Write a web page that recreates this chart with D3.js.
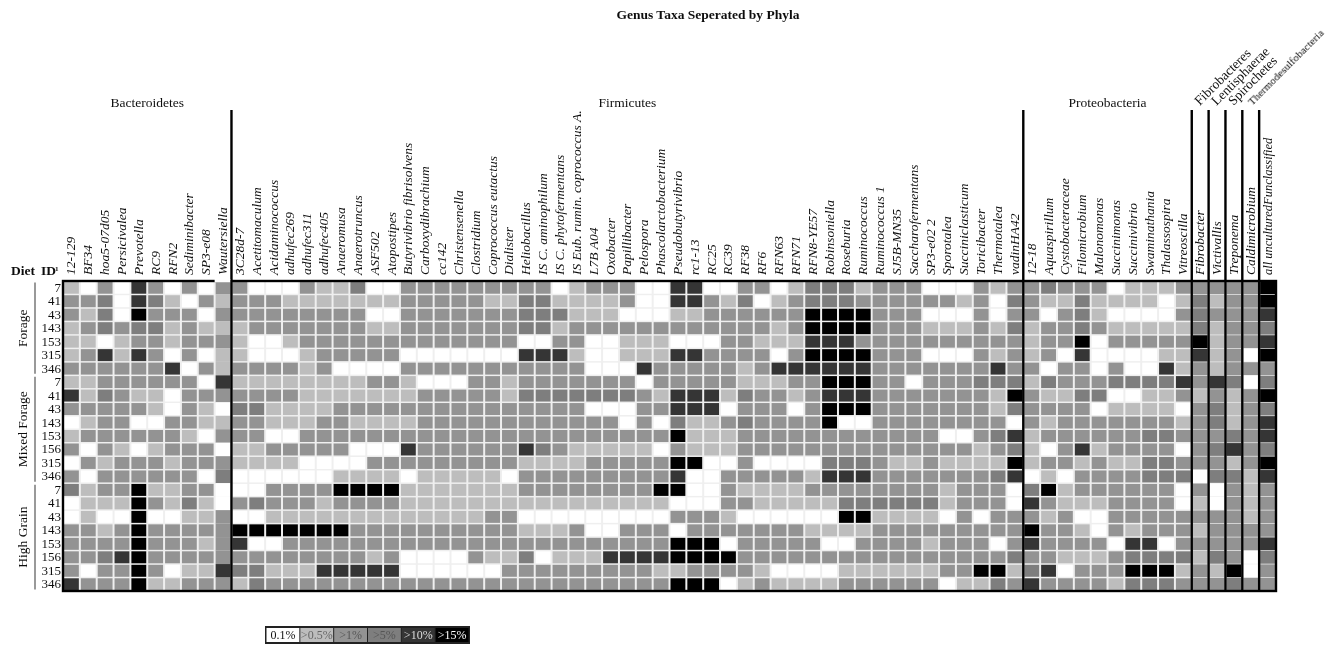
<!DOCTYPE html>
<meta charset="utf-8">

<style type="text/css">
body { margin: 0; background: #fff; }
text { font-family: "Liberation Serif", serif; fill: #111; }
.title { font-size: 13.5px; font-weight: bold; }
.phylum { font-size: 13.5px; }
.taxon { font-size: 13.5px; font-style: italic; }
.rowid { font-size: 13px; }
.diet { font-size: 13.5px; }
.head { font-size: 13.5px; font-weight: bold; }
.divider { stroke: #000; stroke-width: 2.4; }
.frame { fill: none; stroke: #000; stroke-width: 2.4; }
.bracket { stroke: #999; stroke-width: 2; }
.legend text { font-size: 12px; }
</style>
<body>
</body>

<script src="https://d3js.org/d3.v7.min.js"></script>
<script>

// taxa by phylum, left to right
var bacteroidetes = ["12-129", "BF34", "hoa5-07d05", "Persicivalea", "Prevotella", "RC9", "RFN2", "Sediminibacter", "SP3-e08", "Wautersiella"];
var firmicutes = ["3C28d-7", "Acetitomaculum", "Acidaminococcus", "adhufec269", "adhufec311", "adhufec405", "Anaeromusa", "Anaerotruncus", "ASF502", "Atopostipes", "Butyrivibrio fibrisolvens", "Carboxydibrachium", "cc142", "Christensenella", "Clostridium", "Coprococcus eutactus", "Dialister", "Heliobacillus", "IS C. aminophilum", "IS C. phytofermentans", "IS Eub. rumin. coprococcus A.", "L7B A04", "Oxobacter", "Papillibacter", "Pelospora", "Phascolarctobacterium", "Pseudobutyrivibrio", "rc1-13", "RC25", "RC39", "RF38", "RF6", "RFN63", "RFN71", "RFN8-YE57", "Robinsoniella", "Roseburia", "Ruminococcus", "Ruminococcus 1", "SJ5B-MN35", "Saccharofermentans", "SP3-e02 2", "Sporotalea", "Succiniclasticum", "Toricibacter", "Thermotalea", "vadinHA42"];
var proteobacteria = ["12-18", "Aquaspirillum", "Cystobacteraceae", "Filomicrobium", "Malonomonas", "Succinimonas", "Succinivibrio", "Swaminathania", "Thalassospira", "Vitreoscilla"];
var singles = ["Fibrobacter", "Victivallis", "Treponema", "Caldimicrobium", "all unculturedFunclassified"];
var singlePhyla = ["Fibrobacteres", "Lentisphaerae", "Spirochetes", "Thermodesulfobacteria"];

var dietNames = ["Forage", "Mixed Forage", "High Grain"];
var forageIds = [7, 41, 43, 143, 153, 315, 346];
var mixedIds = [7, 41, 43, 143, 153, 156, 315, 346];
var grainIds = [7, 41, 43, 143, 153, 156, 315, 346];

// abundance class of each taxon, one row per animal (index into abundanceLabels)
var abundanceLabels = ["0.1%", ">0.5%", ">1%", ">5%", ">10%", ">15%"];
var abundanceGreys = ["#ffffff", "#bdbdbd", "#939393", "#7e7e7e", "#353535", "#000000"];
var legendInk = ["#111", "#666", "#555", "#555", "#ddd", "#fff"];

var forageCells = [
  [1,0,2,0,4,2,0,2,0,2, 2,0,0,0,2,1, 1,3,0,0,2,2,2,2,2,2,2,2,2,0,1,2,2,2,0,0, 4,4,0,0,2,2,0,1,3,3,3,1,2,2,2,0,0,0,2,1, 2,2,3,2,2,2,0,1,1,1,2,2,2,2,2,5],
  [2,2,3,0,4,3,1,0,2,1, 2,2,2,1,1,1, 1,1,1,1,2,2,2,2,2,1,1,3,3,1,1,1,1,2,0,0, 4,4,2,1,3,0,1,2,3,3,3,2,2,2,2,2,2,1,2,0, 3,2,1,1,3,1,1,1,1,0,1,3,1,2,2,5],
  [2,1,3,0,5,2,2,2,0,2, 2,2,2,2,2,2, 2,2,0,0,2,2,2,2,2,2,2,3,3,3,1,1,1,0,0,0, 1,1,2,2,2,2,2,2,5,5,5,5,2,2,2,0,0,0,2,0, 2,2,0,2,3,1,0,0,0,0,2,3,2,2,2,4],
  [1,2,3,2,3,3,1,2,1,1, 1,2,2,2,2,2, 2,2,1,1,2,2,2,2,2,2,2,3,3,1,2,2,2,2,2,2, 2,2,2,2,2,2,1,2,5,5,5,5,2,2,2,1,1,1,2,1, 3,1,2,2,3,2,1,1,1,1,1,3,1,2,2,3],
  [1,1,0,1,2,2,1,2,2,2, 1,0,0,1,2,2, 2,2,2,2,2,2,2,2,2,2,2,0,0,2,2,0,0,1,1,1, 0,0,0,2,2,1,1,1,4,4,4,2,2,2,2,2,2,2,2,2, 2,1,2,2,5,0,2,2,2,2,2,5,1,2,2,4],
  [1,2,4,1,4,2,0,2,0,1, 1,0,0,0,1,2, 2,2,2,2,0,0,0,0,0,0,0,4,4,4,1,0,0,1,1,1, 4,4,2,2,2,2,0,2,5,5,5,5,2,2,2,0,0,0,2,1, 2,1,2,0,4,0,0,0,0,1,1,4,1,2,0,5],
  [2,2,2,2,2,2,4,0,2,1, 2,2,2,2,1,2, 0,0,0,0,2,2,2,2,2,2,2,2,2,2,2,0,0,0,4,2, 2,2,2,2,1,2,4,4,4,4,4,4,2,2,2,2,2,2,2,4, 2,2,0,2,2,0,2,0,0,4,1,2,1,2,2,2]
];
var mixedCells = [
  [1,1,2,2,2,2,2,2,0,4, 1,1,1,1,1,1, 1,1,2,2,1,0,0,0,2,2,1,2,2,2,2,2,2,2,0,2, 2,2,2,2,1,1,1,2,2,5,5,5,2,2,0,2,2,2,3,3, 3,1,3,2,2,2,3,3,3,3,4,2,4,3,0,3],
  [4,1,3,2,1,1,0,2,2,2, 2,2,2,2,1,1, 1,1,1,1,1,2,2,2,2,2,1,3,3,3,3,3,3,3,2,1, 4,4,4,1,3,2,2,1,2,4,4,4,2,2,2,2,2,2,2,1, 5,2,1,1,3,3,0,0,1,1,2,1,2,1,2,5],
  [2,2,2,2,2,1,0,2,1,0, 3,3,1,1,1,1, 2,2,2,2,2,2,2,2,2,2,2,2,2,2,2,0,0,0,2,2, 4,4,4,0,2,2,2,0,2,5,5,5,2,2,2,2,2,2,2,1, 3,2,2,2,2,0,1,1,1,1,0,2,3,1,2,3],
  [0,1,2,2,0,0,2,2,1,1, 2,2,1,1,1,2, 2,1,1,1,1,2,2,2,2,2,2,2,2,2,2,2,2,0,2,0, 3,1,1,2,3,2,2,2,2,5,0,0,2,2,2,2,2,2,2,2, 0,2,1,2,2,2,2,2,2,2,1,2,3,1,2,4],
  [1,2,2,2,2,2,2,1,0,2, 2,2,0,0,2,2, 2,2,2,2,2,2,2,2,2,2,2,2,2,2,2,2,2,2,2,2, 5,1,1,1,2,2,2,2,2,2,2,2,2,2,2,2,0,0,2,3, 4,1,2,2,2,2,2,2,3,3,2,2,2,3,2,4],
  [2,0,2,1,0,1,2,2,2,0, 1,1,2,2,2,2, 2,0,0,0,4,2,2,2,2,2,2,4,3,2,1,1,1,1,1,0, 2,1,1,1,2,2,2,2,2,2,2,2,2,2,2,2,2,2,1,2, 3,1,0,2,4,1,2,2,2,2,0,2,3,4,2,3],
  [0,2,1,2,2,2,1,2,2,2, 1,1,1,1,0,0, 0,0,2,2,2,2,2,2,2,2,2,1,1,1,1,2,2,2,2,2, 5,5,0,0,2,0,0,0,0,3,3,3,2,1,1,2,1,1,1,1, 5,1,2,2,1,2,1,1,3,3,2,2,2,1,2,5],
  [2,0,2,2,2,2,2,2,0,3, 0,0,0,0,0,0, 1,1,1,1,0,1,1,1,1,1,0,2,2,2,2,2,2,2,2,2, 4,0,0,2,2,2,2,2,1,4,4,4,2,2,2,2,2,2,2,3, 4,0,1,0,2,2,2,2,3,3,3,0,3,3,1,4]
];
var grainCells = [
  [3,1,2,2,5,1,1,2,2,0, 0,0,2,2,2,2, 5,5,5,5,1,1,1,1,1,1,1,2,2,2,2,2,2,2,2,5, 5,0,0,2,1,1,1,1,2,2,2,2,2,2,2,2,1,2,2,2, 0,3,5,1,2,2,2,2,2,2,0,2,0,2,1,2],
  [0,1,1,1,5,2,1,3,1,0, 2,3,2,2,2,1, 2,2,2,2,1,1,1,1,1,1,1,1,1,1,1,1,1,1,1,1, 0,0,0,2,2,1,1,1,1,1,3,3,3,3,3,3,1,2,2,2, 0,4,2,1,1,1,2,2,2,2,0,1,0,2,1,2],
  [0,1,0,0,5,0,0,1,1,2, 0,0,1,1,1,1, 1,1,1,1,1,1,1,1,1,2,2,0,0,0,0,0,0,0,0,0, 2,2,2,1,0,0,0,0,0,0,5,5,1,1,1,1,0,2,0,2, 2,2,1,2,0,0,2,2,2,2,2,2,2,2,1,2],
  [2,2,1,2,5,2,2,2,2,2, 5,5,5,5,5,5, 5,2,2,2,2,2,2,2,2,2,2,1,1,1,2,0,0,2,2,2, 0,2,2,2,2,2,2,2,1,1,1,1,2,2,2,2,2,2,2,2, 2,5,2,2,1,0,2,1,2,2,2,1,2,2,2,2],
  [2,2,2,2,5,2,2,2,1,2, 4,0,0,2,2,2, 2,2,2,2,2,2,2,2,2,2,2,2,2,2,2,2,2,2,2,2, 5,5,5,0,2,2,2,2,2,0,0,2,2,2,2,1,2,2,2,0, 2,4,2,2,2,2,0,4,4,0,2,2,2,2,2,4],
  [2,2,3,4,5,2,2,2,2,2, 2,2,2,2,2,2, 2,2,1,2,0,0,0,0,2,1,1,3,0,1,1,1,4,4,4,4, 5,5,5,5,2,2,2,2,2,2,2,2,2,2,2,2,2,2,2,2, 3,2,2,1,1,1,2,3,3,3,3,1,3,2,0,3],
  [2,0,2,2,5,2,0,1,1,4, 3,3,1,1,1,4, 4,4,4,4,0,0,0,0,0,0,2,2,2,2,2,2,2,2,2,1, 1,2,2,2,2,1,0,0,0,0,1,1,1,1,1,1,2,2,5,5, 1,3,4,0,2,2,2,5,5,5,1,2,1,5,0,2],
  [4,2,2,2,5,1,1,2,2,2, 1,3,2,2,2,2, 2,2,2,2,2,2,2,2,2,2,2,2,2,2,2,2,2,2,2,2, 5,5,5,0,1,2,1,1,1,1,2,2,2,2,2,2,0,1,1,3, 2,4,2,2,2,2,1,3,3,3,2,2,2,3,2,2]
];

var taxa = bacteroidetes.concat(firmicutes, proteobacteria, singles);
var cells = forageCells.concat(mixedCells, grainCells);
var rowIds = forageIds.concat(mixedIds, grainIds);
var rowKeys = rowIds.map(function(id, i) { return i; });

var svg = d3.select("body").append("svg")
    .attr("width", 1336)
    .attr("height", 645);

var defs = svg.append("defs");
defs.append("filter").attr("id", "soft")
    .append("feGaussianBlur").attr("stdDeviation", 0.45);

var page = svg.append("g").attr("filter", "url(#soft)");

var gridLeft = 63, gridRight = 1276, gridTop = 281, gridBottom = 591;

var xScale = d3.scaleBand()
    .domain(d3.range(taxa.length))
    .range([gridLeft, gridRight]);

var yScale = d3.scaleBand()
    .domain(rowKeys)
    .range([gridTop, gridBottom]);

var colour = d3.scaleOrdinal()
    .domain(d3.range(abundanceLabels.length))
    .range(abundanceGreys);

page.append("text").attr("class", "title")
    .attr("x", 708).attr("y", 19)
    .attr("text-anchor", "middle")
    .text("Genus Taxa Seperated by Phyla");

// pale backing shows through as the gaps between cells
page.append("rect")
    .attr("x", gridLeft).attr("y", gridTop)
    .attr("width", gridRight - gridLeft).attr("height", gridBottom - gridTop)
    .attr("fill", "#efefef");

var flat = [];
cells.forEach(function(row, r) {
  row.forEach(function(v, c) { flat.push({r: r, c: c, v: v}); });
});

// Wautersiella and the single-genus phyla run as nearly solid columns
function rowGap(c) {
  if (c == 9) return 0;
  if (c >= 67) return 0.7;
  return 1.5;
}

page.append("g").selectAll("rect")
    .data(flat)
  .enter().append("rect")
    .attr("x", function(d) { return xScale(d.c) + 1; })
    .attr("y", function(d) { return yScale(d.r) + rowGap(d.c) / 2; })
    .attr("width", xScale.bandwidth() - 2)
    .attr("height", function(d) { return yScale.bandwidth() - rowGap(d.c); })
    .attr("fill", function(d) { return colour(d.v); });

// frame and phylum dividers
var dividerCols = [10, 57, 67, 68, 69, 70, 71];
page.selectAll("line.divider")
    .data(dividerCols)
  .enter().append("line")
    .attr("class", "divider")
    .attr("x1", function(d) { return xScale(d); })
    .attr("x2", function(d) { return xScale(d); })
    .attr("y1", 110)
    .attr("y2", gridBottom);

page.append("rect").attr("class", "frame")
    .attr("x", gridLeft).attr("y", gridTop)
    .attr("width", gridRight - gridLeft).attr("height", gridBottom - gridTop);

// the top rule breaks over Wautersiella
page.append("rect")
    .attr("x", xScale(9)).attr("y", gridTop - 2)
    .attr("width", xScale.bandwidth() - 1.2).attr("height", 3.4)
    .attr("fill", "#fff");

// taxon names
page.append("g").selectAll("text")
    .data(taxa)
  .enter().append("text")
    .attr("class", "taxon")
    .attr("transform", function(d, i) {
      return "translate(" + (xScale(i) + xScale.bandwidth() / 2 + 4) + ",275) rotate(-90)";
    })
    .style("font-size", function(d, i) { return i == taxa.length - 1 ? "12.5px" : null; })
    .text(function(d) { return d; });

// phylum headings
var phylumHeads = [
  {name: "Bacteroidetes", from: 0, to: 10},
  {name: "Firmicutes", from: 10, to: 57},
  {name: "Proteobacteria", from: 57, to: 67}
];
page.selectAll("text.phylum")
    .data(phylumHeads)
  .enter().append("text")
    .attr("class", "phylum")
    .attr("x", function(d) { return (xScale(d.from) + xScale(d.to - 1) + xScale.bandwidth()) / 2; })
    .attr("y", 107)
    .attr("text-anchor", "middle")
    .text(function(d) { return d.name; });

page.selectAll("text.slanted")
    .data(singlePhyla)
  .enter().append("text")
    .attr("class", "phylum slanted")
    .attr("transform", function(d, i) {
      return "translate(" + (xScale(67 + i) + (i == 3 ? 10 : 8)) + ",106) rotate(-45)";
    })
    .style("font-size", function(d, i) { return i == 3 ? "11px" : "13.5px"; })
    .text(function(d) { return d; });

// row labels
page.append("text").attr("class", "head").attr("x", 11).attr("y", 275).text("Diet");
page.append("text").attr("class", "head").attr("x", 41).attr("y", 275).text("ID");
page.append("text").attr("class", "head").attr("x", 55).attr("y", 271).style("font-size", "7px").text("1");

page.append("g").selectAll("text")
    .data(rowIds)
  .enter().append("text")
    .attr("class", "rowid")
    .attr("x", 61)
    .attr("y", function(d, i) { return yScale(i) + yScale.bandwidth() / 2 + 4; })
    .attr("text-anchor", "end")
    .text(function(d) { return d; });

var dietGroups = [
  {name: dietNames[0], from: 0, to: forageIds.length},
  {name: dietNames[1], from: forageIds.length, to: forageIds.length + mixedIds.length},
  {name: dietNames[2], from: forageIds.length + mixedIds.length, to: rowIds.length}
];
dietGroups.forEach(function(g) {
  var top = yScale(g.from) + 1.5,
      bottom = yScale(g.to - 1) + yScale.bandwidth() - 1.5;
  page.append("line").attr("class", "bracket")
      .attr("x1", 35).attr("x2", 35).attr("y1", top).attr("y2", bottom);
  page.append("text").attr("class", "diet")
      .attr("transform", "translate(27," + (top + bottom) / 2 + ") rotate(-90)")
      .attr("text-anchor", "middle")
      .text(g.name);
});

// legend
var legendX = d3.scaleBand()
    .domain(d3.range(abundanceLabels.length))
    .range([266, 469]);

var legend = page.append("g").attr("class", "legend");
legend.append("rect")
    .attr("x", 265).attr("y", 626).attr("width", 205).attr("height", 18)
    .attr("fill", "#222");
legend.selectAll("rect.swatch")
    .data(abundanceLabels)
  .enter().append("rect")
    .attr("class", "swatch")
    .attr("x", function(d, i) { return legendX(i) + 0.5; })
    .attr("y", 628)
    .attr("width", legendX.bandwidth() - 1)
    .attr("height", 14)
    .attr("fill", function(d, i) { return colour(i); });
legend.selectAll("text")
    .data(abundanceLabels)
  .enter().append("text")
    .attr("x", function(d, i) { return legendX(i) + legendX.bandwidth() / 2; })
    .attr("y", 639)
    .attr("text-anchor", "middle")
    .style("fill", function(d, i) { return legendInk[i]; })
    .text(function(d) { return d; });

</script>
